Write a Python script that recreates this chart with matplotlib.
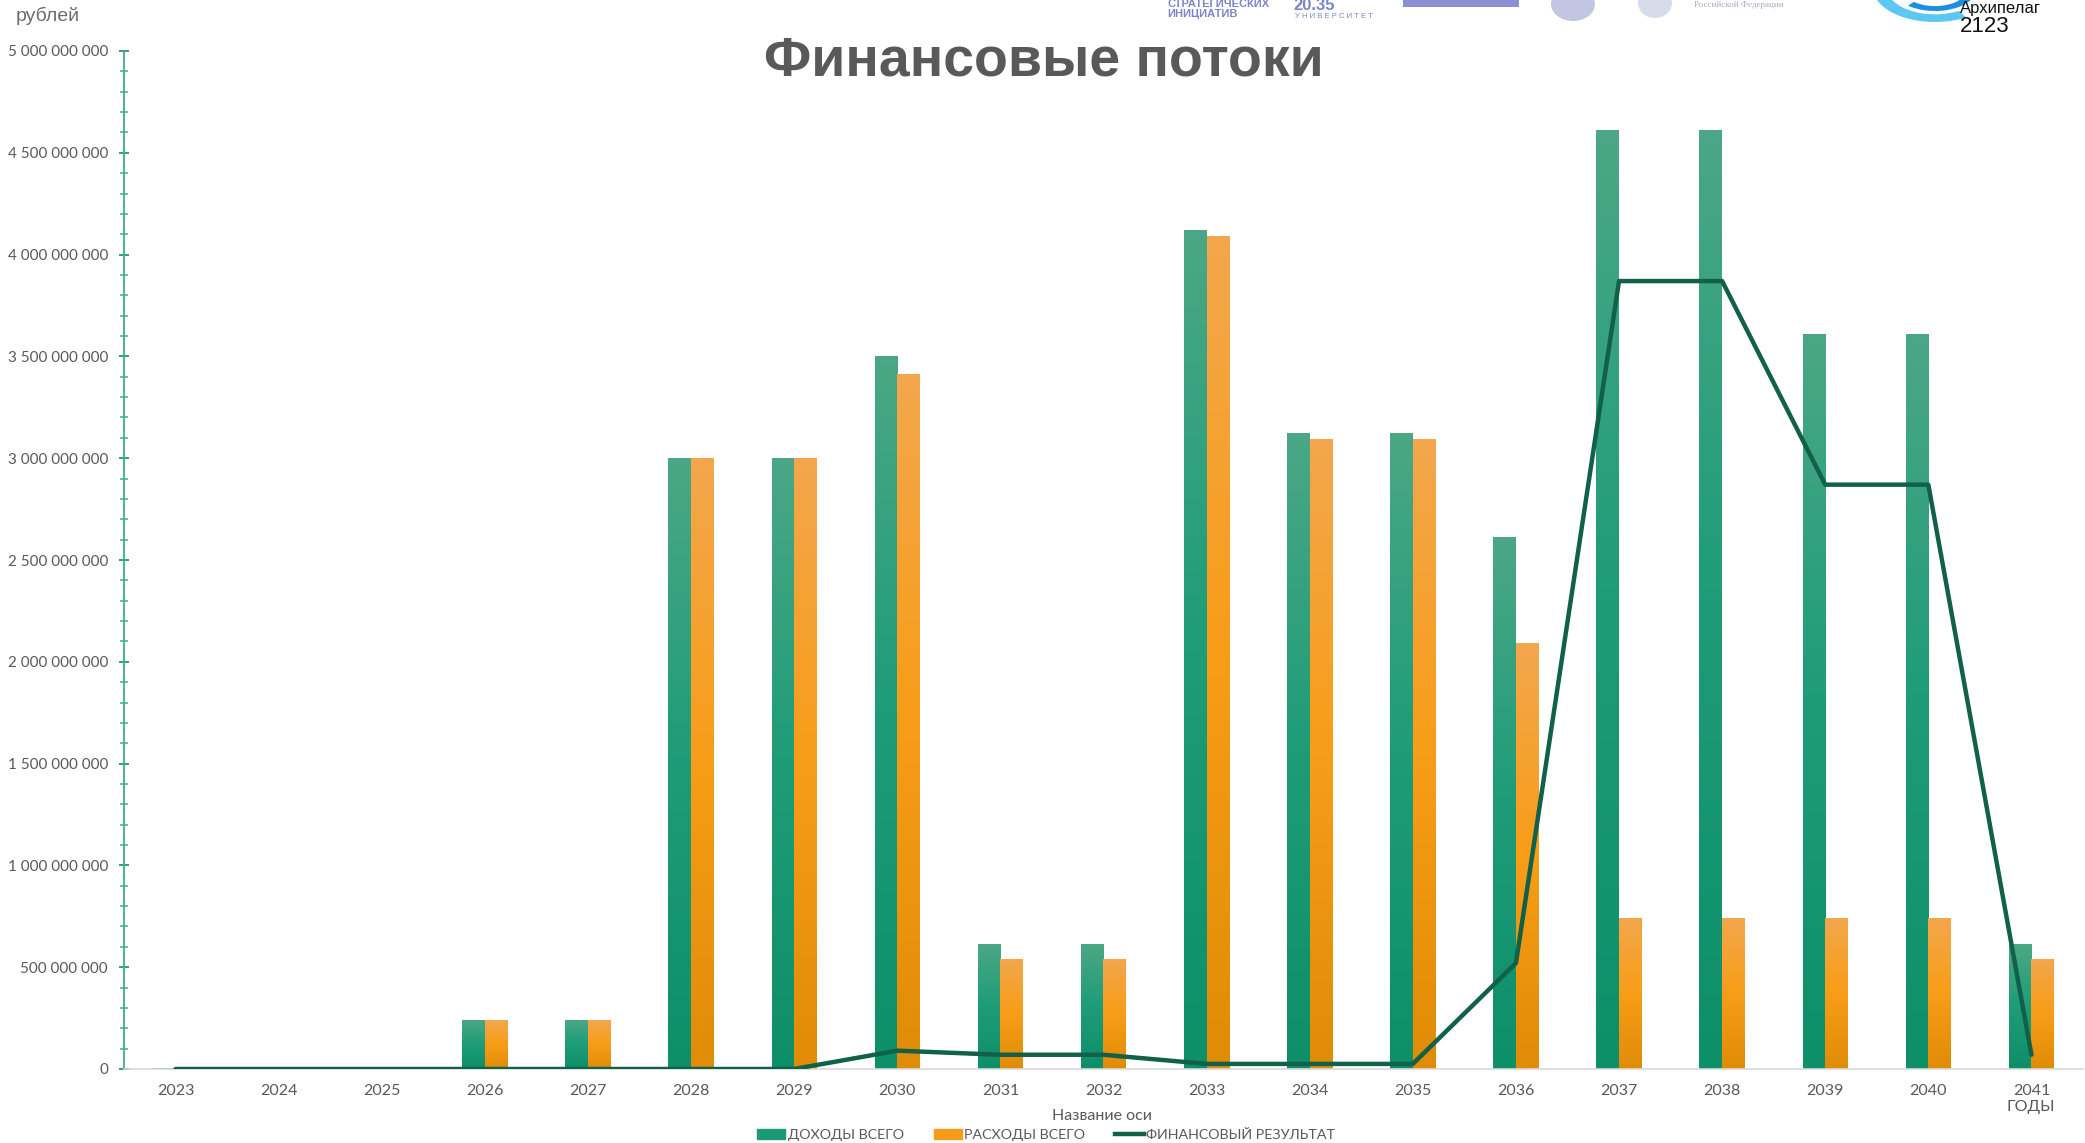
import matplotlib.pyplot as plt
import numpy as np
from matplotlib.colors import LinearSegmentedColormap
from matplotlib.ticker import MultipleLocator, FuncFormatter
from matplotlib.patches import Rectangle, Wedge, Ellipse

# data (roubles)
years = [str(y) for y in range(2023, 2042)]
income = [3e6, 0, 0, 2.4e8, 2.4e8, 3.0e9, 3.0e9, 3.5e9, 6.1e8, 6.1e8,
          4.12e9, 3.12e9, 3.12e9, 2.61e9, 4.61e9, 4.61e9, 3.61e9, 3.61e9, 6.1e8]
expenses = [0, 0, 0, 2.4e8, 2.4e8, 3.0e9, 3.0e9, 3.41e9, 5.4e8, 5.4e8,
            4.09e9, 3.09e9, 3.09e9, 2.09e9, 7.4e8, 7.4e8, 7.4e8, 7.4e8, 5.4e8]
result = [0, 0, 0, 0, 0, 0, 0, 9e7, 7e7, 7e7,
          2.5e7, 2.5e7, 2.5e7, 5.2e8, 3.87e9, 3.87e9, 2.87e9, 2.87e9, 7e7]

legend_labels = ["ДОХОДЫ ВСЕГО", "РАСХОДЫ ВСЕГО", "ФИНАНСОВЫЙ РЕЗУЛЬТАТ"]

GREY = '#595959'
GREEN = '#1a9a77'
ORANGE = '#f59c1a'
DARK = '#10604a'

fig = plt.figure(figsize=(20.85, 11.43), dpi=100)
ax = fig.add_axes([124 / 2085, 74 / 1143, 1959 / 2085, 1018 / 1143])


def gradient_bars(xpos, vals, width, colors, label):
    cmap = LinearSegmentedColormap.from_list(label, colors)
    grad = np.linspace(0, 1, 256).reshape(-1, 1)
    bars = ax.bar(xpos, vals, width, color='none', edgecolor='none', label=label)
    for b in bars:
        x0, y0 = b.get_xy()
        w, h = b.get_width(), b.get_height()
        if h <= 0:
            continue
        ax.imshow(grad, cmap=cmap, extent=[x0, x0 + w, y0, y0 + h],
                  origin='lower', aspect='auto', zorder=2, interpolation='bilinear')
    return bars


x = np.arange(len(years))
w = 0.22
gradient_bars(x - w / 2, income, w, ['#0d8f68', '#1e9c78', '#4ba785'], 'inc')
gradient_bars(x + w / 2, expenses, w, ['#e08c06', '#f89d18', '#f3a74c'], 'exp')
ax.plot(x, result, color=DARK, lw=3.2, zorder=4, solid_capstyle='round')

ax.set_xlim(-0.5, len(years) - 0.5)
ax.set_ylim(0, 5e9)

for s in ['top', 'right']:
    ax.spines[s].set_visible(False)
ax.spines['bottom'].set_color('#d9d9d9')
ax.spines['bottom'].set_linewidth(1.2)
ax.spines['left'].set_color('#3fae8c')
ax.spines['left'].set_linewidth(1.3)

ax.set_xticks(x)
ax.set_xticklabels(years)
ax.tick_params(axis='x', length=0, pad=11, labelsize=11.5, labelcolor=GREY)
for t in ax.get_xticklabels():
    t.set_family('Lato')

ax.yaxis.set_major_locator(MultipleLocator(5e8))
ax.yaxis.set_minor_locator(MultipleLocator(1e8))
ax.yaxis.set_major_formatter(FuncFormatter(lambda v, p: f"{int(v):,}".replace(",", " ")))
ax.tick_params(axis='y', which='major', direction='inout', length=7, width=1.3,
               color='#20967a', pad=8, labelsize=11, labelcolor=GREY)
ax.tick_params(axis='y', which='minor', direction='inout', length=6, width=1.1,
               color='#3fae8c')
for t in ax.get_yticklabels():
    t.set_family('Lato')

# axis captions
fig.text(1102 / 2085, 1 - 1116 / 1143, "Название оси", ha='center', va='center',
         fontsize=11.5, color=GREY, family='Lato')
fig.text(2031 / 2085, 1 - 1107 / 1143, "ГОДЫ", ha='center', va='center',
         fontsize=11.5, color=GREY, family='Lato')
fig.text(16 / 2085, 1 - 16 / 1143, "рублей", ha='left', va='center',
         fontsize=14, color='#6d6d6d', family='Liberation Sans')
fig.text(1044 / 2085, 1 - 61 / 1143, "Финансовые потоки", ha='center', va='center',
         fontsize=40, fontweight='bold', color=GREY, family='Liberation Sans')

# legend
handles = [Rectangle((0, 0), 1, 1, color=GREEN),
           Rectangle((0, 0), 1, 1, color=ORANGE),
           plt.Line2D([0], [0], color=DARK, lw=3.2)]
leg = fig.legend(handles, legend_labels, loc='center', ncol=3, frameon=False,
                 bbox_to_anchor=(1046 / 2085, 1 - 1135 / 1143),
                 handlelength=2.0, handleheight=0.7, handletextpad=0.15,
                 columnspacing=2.1, prop={'family': 'Lato', 'size': 10.3})
for t in leg.get_texts():
    t.set_color(GREY)

# logos along the top edge
PURPLE = '#7b85c8'
fig.text(1167 / 2085, 1 - 4 / 1143, "СТРАТЕГИЧЕСКИХ", ha='left', va='center',
         fontsize=8, fontweight='bold', color=PURPLE, family='Liberation Sans')
fig.text(1167 / 2085, 1 - 14 / 1143, "ИНИЦИАТИВ", ha='left', va='center',
         fontsize=8, fontweight='bold', color=PURPLE, family='Liberation Sans')
fig.text(1293 / 2085, 1 - 6 / 1143, "20.35", ha='left', va='center',
         fontsize=12, fontweight='bold', color=PURPLE, family='Liberation Sans')
fig.text(1295 / 2085, 1 - 17 / 1143, "У Н И В Е Р С И Т Е Т", ha='left', va='center',
         fontsize=5.5, color=PURPLE, family='Liberation Sans')
fig.patches.append(Rectangle((1403 / 2085, 1 - 7 / 1143), 116 / 2085, 20 / 1143,
                             transform=fig.transFigure, color='#8a90d2', lw=0))
fig.patches.append(Ellipse((1573 / 2085, 1 - 4 / 1143), 44 / 2085, 34 / 1143,
                           transform=fig.transFigure, color='#c2c6e2', lw=0))
fig.patches.append(Ellipse((1655 / 2085, 1 - 3 / 1143), 34 / 2085, 30 / 1143,
                           transform=fig.transFigure, color='#d8dbea', lw=0))
fig.text(1694 / 2085, 1 - 5 / 1143, "Российской Федерации", ha='left', va='center',
         fontsize=6.5, color='#a9adc4', family='Liberation Serif')
fig.patches.append(Wedge((1935 / 2085, 1 + 12 / 1143), 62 / 2085, 200, 300,
                         width=14 / 2085, transform=fig.transFigure, color='#5cc8f2', lw=0))
fig.patches.append(Wedge((1935 / 2085, 1 + 12 / 1143), 42 / 2085, 230, 330,
                         width=9 / 2085, transform=fig.transFigure, color='#1d8fe0', lw=0))
fig.text(1960 / 2085, 1 - 8 / 1143, "Архипелаг", ha='left', va='center',
         fontsize=12, color='#111111', family='Liberation Sans')
fig.text(1960 / 2085, 1 - 26 / 1143, "2123", ha='left', va='center',
         fontsize=16, color='#111111', family='Liberation Sans')

fig.savefig('out.png', dpi=100)
